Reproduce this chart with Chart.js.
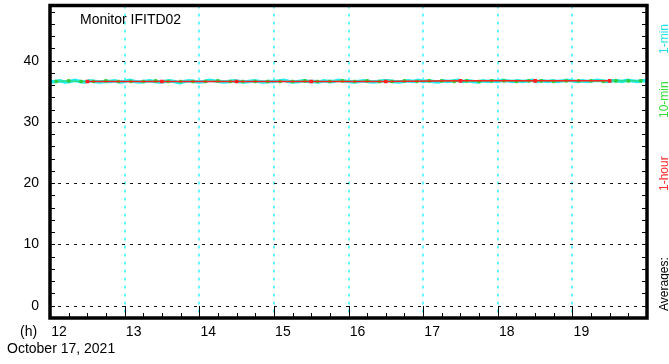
<!DOCTYPE html>
<html>
<head>
<meta charset="utf-8">
<script src="https://cdn.jsdelivr.net/npm/chart.js@4"></script>
<style>
    html, body { margin: 0; padding: 0; background: #fff; }
    #wrap { position: relative; width: 669px; height: 364px; font-family: "Liberation Sans", Arial, sans-serif; color: #000; }
    #wrap canvas { position: absolute; left: 0; top: 0; }
    .lbl { position: absolute; white-space: nowrap; font-size: 14px; line-height: 14px; }
    .side { position: absolute; white-space: nowrap; font-size: 12px; line-height: 12px; transform-origin: 0 0; transform: rotate(-90deg); }
</style>
</head>
<body>
<div id="wrap">
    <canvas id="chart" width="669" height="364"></canvas>
    <div class="lbl" style="left:80px; top:12px;">Monitor IFITD02</div>
    <div class="lbl" style="left:20px; top:324px;">(h)</div>
    <div class="lbl" style="left:7px; top:341px;">October 17, 2021</div>
    <div class="side" style="left:658px; top:311px;">Averages:</div>
    <div class="side" style="left:658px; top:191px; color:#ff2a2a;">1-hour</div>
    <div class="side" style="left:658px; top:118px; color:#33dd33;">10-min</div>
    <div class="side" style="left:658px; top:54px; color:#22e0e8;">1-min</div>
</div>
<script>
// axis ticks
const hourTicks = [12, 13, 14, 15, 16, 17, 18, 19, 20];
const valueTicks = [0, 10, 20, 30, 40];

// 1-min averages, sampled every 4 min from 12:00
const oneMinValues = [
    36.5, 36.6, 36.7, 36.5, 36.6, 36.8, 36.6, 36.5, 36.7, 36.6,
    36.5, 36.6, 36.6, 36.7, 36.5, 36.6, 36.8, 36.6, 36.5, 36.6,
    36.7, 36.6, 36.5, 36.6, 36.7, 36.6, 36.4, 36.6, 36.7, 36.6,
    36.5, 36.6, 36.8, 36.7, 36.6, 36.5, 36.6, 36.7, 36.6, 36.5,
    36.6, 36.7, 36.6, 36.5, 36.6, 36.6, 36.7, 36.8, 36.6, 36.5,
    36.6, 36.7, 36.6, 36.6, 36.5, 36.7, 36.6, 36.6, 36.8, 36.7,
    36.6, 36.5, 36.6, 36.7, 36.6, 36.5, 36.6, 36.7, 36.7, 36.6,
    36.5, 36.6, 36.7, 36.6, 36.8, 36.6, 36.7, 36.6, 36.5, 36.7,
    36.6, 36.7, 36.8, 36.6, 36.7, 36.6, 36.5, 36.7, 36.6, 36.7,
    36.6, 36.8, 36.7, 36.6, 36.7, 36.6, 36.7, 36.8, 36.6, 36.7,
    36.6, 36.7, 36.6, 36.7, 36.8, 36.7, 36.6, 36.7, 36.6, 36.7,
    36.8, 36.7, 36.6, 36.7, 36.7, 36.6, 36.8, 36.7, 36.6, 36.7,
    36.7
];

// 10-min averages, 12:05 .. 19:55
const tenMinValues = [
    36.6, 36.7, 36.6, 36.6, 36.7, 36.6,
    36.6, 36.6, 36.7, 36.6, 36.6, 36.6,
    36.6, 36.7, 36.6, 36.6, 36.6, 36.6,
    36.6, 36.6, 36.7, 36.6, 36.6, 36.7,
    36.6, 36.7, 36.6, 36.6, 36.7, 36.6,
    36.7, 36.7, 36.6, 36.7, 36.6, 36.7,
    36.7, 36.6, 36.7, 36.7, 36.6, 36.7,
    36.7, 36.7, 36.6, 36.7, 36.7, 36.7
];

// 1-hour averages, 12:30 .. 19:30
const oneHourValues = [36.6, 36.6, 36.6, 36.6, 36.6, 36.7, 36.7, 36.7];

const START_HOUR = 12;
const oneMinPoints = oneMinValues.map((v, i) => ({ x: START_HOUR + i * 4 / 60, y: v }));
const tenMinPoints = tenMinValues.map((v, i) => ({ x: START_HOUR + (i * 10 + 5) / 60, y: v }));
const oneHourPoints = oneHourValues.map((v, i) => ({ x: START_HOUR + 0.5 + i, y: v }));

// dotted grid drawn on whole pixels so every line is equally crisp
const gridPlugin = {
    id: 'dottedGrid',
    beforeDatasetsDraw: (chart) => {
        const { ctx, chartArea: a, scales } = chart;
        ctx.save();
        ctx.lineWidth = 2;
        ctx.strokeStyle = '#66f6ff';
        ctx.setLineDash([3, 5]);
        ctx.beginPath();
        hourTicks.filter(h => h > 12 && h < 20).forEach(h => {
            const x = Math.round(scales.x.getPixelForValue(h));
            ctx.moveTo(x, a.top); ctx.lineTo(x, a.bottom);
        });
        ctx.stroke();
        ctx.lineWidth = 1;
        ctx.strokeStyle = '#111';
        ctx.setLineDash([3, 5]);
        ctx.beginPath();
        valueTicks.forEach(v => {
            const y = Math.round(scales.y.getPixelForValue(v)) + 0.5;
            ctx.moveTo(a.left, y); ctx.lineTo(a.right, y);
        });
        ctx.stroke();
        ctx.restore();
    }
};

const framePlugin = {
    id: 'frame',
    afterDraw: (chart) => {
        const { ctx, chartArea: a, scales } = chart;
        ctx.save();
        ctx.strokeStyle = '#000';
        ctx.lineWidth = 1;
        ctx.beginPath();
        // minor ticks on left and right, every 2 units
        for (let v = -2; v <= 48; v += 2) {
            const y = Math.round(scales.y.getPixelForValue(v)) + 0.5;
            ctx.moveTo(a.left, y); ctx.lineTo(a.left + 5, y);
            ctx.moveTo(a.right - 5, y); ctx.lineTo(a.right, y);
        }
        // quarter-hour ticks on the bottom, longer on the hour
        for (let q = 0; q <= 32; q++) {
            const x = Math.round(scales.x.getPixelForValue(START_HOUR + q / 4)) + 0.5;
            const len = q % 4 === 0 ? 12 : 5;
            ctx.moveTo(x, a.bottom); ctx.lineTo(x, a.bottom - len);
        }
        ctx.stroke();
        ctx.lineWidth = 3.5;
        ctx.strokeRect(a.left, a.top, a.right - a.left, a.bottom - a.top);
        ctx.restore();
    }
};

new Chart(document.getElementById('chart'), {
    type: 'scatter',
    data: {
        datasets: [
            {
                label: '1-min',
                data: oneMinPoints,
                showLine: true,
                borderColor: '#22eeee',
                borderWidth: 3.5,
                pointRadius: 0,
                order: 3
            },
            {
                label: '10-min',
                data: tenMinPoints,
                showLine: true,
                borderColor: '#33cc33',
                backgroundColor: '#33cc33',
                borderWidth: 0.8,
                pointStyle: 'rect',
                pointRadius: 1.8,
                order: 2
            },
            {
                label: '1-hour',
                data: oneHourPoints,
                showLine: true,
                borderColor: '#ff2020',
                backgroundColor: '#ff2020',
                borderWidth: 1.5,
                pointStyle: 'rect',
                pointRadius: 1.5,
                order: 1
            }
        ]
    },
    options: {
        responsive: false,
        animation: false,
        layout: { padding: { top: 5, right: 22, bottom: 0, left: 0 } },
        plugins: {
            legend: { display: false },
            tooltip: { enabled: false }
        },
        scales: {
            x: {
                type: 'linear',
                min: 12,
                max: 20,
                afterBuildTicks: (s) => { s.ticks = hourTicks.map(v => ({ value: v })); },
                afterFit: (s) => { s.height = 46; s.paddingLeft = 0; s.paddingRight = 0; },
                grid: { display: false, drawTicks: false },
                border: { display: false },
                ticks: {
                    padding: 6,
                    labelOffset: 9,
                    maxRotation: 0,
                    autoSkip: false,
                    color: '#000',
                    font: { family: '"Liberation Sans", Arial, sans-serif', size: 14 },
                    callback: (v) => v === 20 ? '' : String(v)
                }
            },
            y: {
                min: -2,
                max: 49,
                afterBuildTicks: (s) => { s.ticks = valueTicks.map(v => ({ value: v })); },
                afterFit: (s) => { s.width = 50; s.paddingTop = 0; s.paddingBottom = 0; },
                grid: { display: false, drawTicks: false },
                border: { display: false },
                ticks: {
                    padding: 11,
                    color: '#000',
                    font: { family: '"Liberation Sans", Arial, sans-serif', size: 14 }
                }
            }
        }
    },
    plugins: [gridPlugin, framePlugin]
});
</script>
</body>
</html>
